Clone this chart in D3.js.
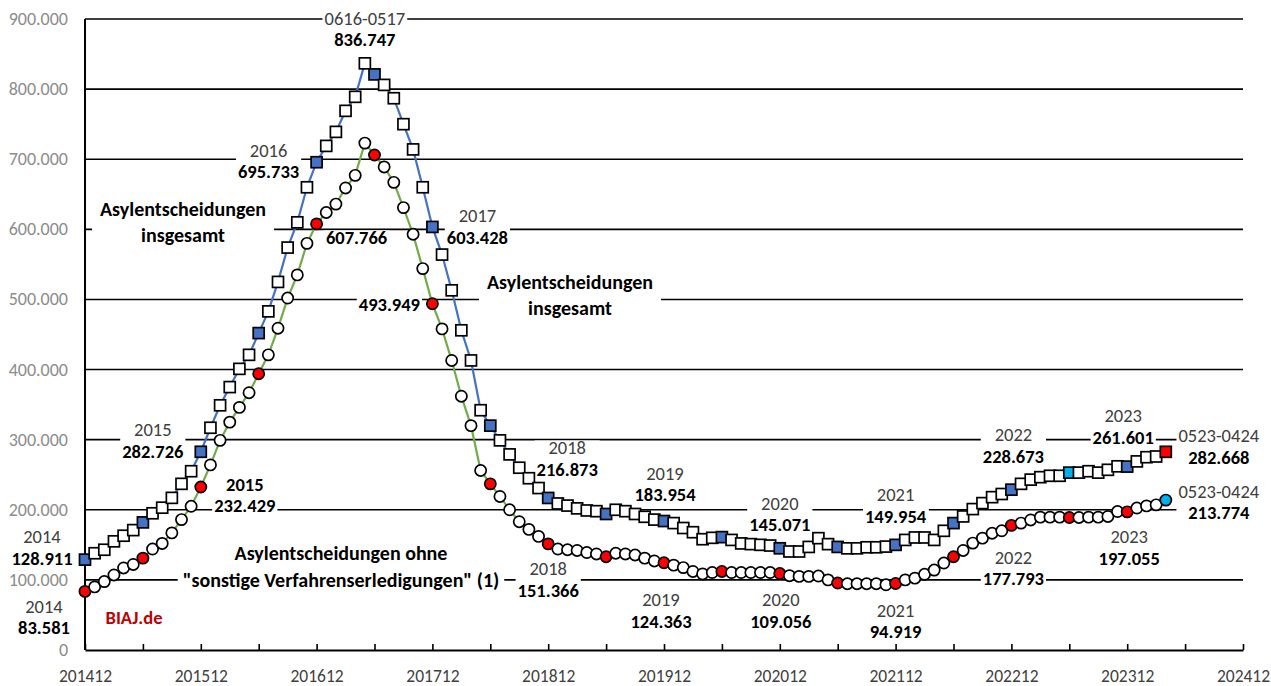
<!DOCTYPE html>
<html>
<head>
<meta charset="utf-8">
<script src="https://cdn.jsdelivr.net/npm/d3@7"></script>
<style>
  body { margin: 0; background: #fff; }
  svg text { font-family: Carlito, Lato, "Open Sans", sans-serif; }
</style>
</head>
<body>
<div id="chart"></div>
<script>
// monthly rolling 12-month totals, 201412 .. 202404
const startMonth = new Date(2014, 11, 1);
const months = d3.timeMonth.range(startMonth, new Date(2024, 4, 1)).map(d3.timeFormat("%Y%m"));

const xTickLabels = ["201412", "201512", "201612", "201712", "201812", "201912",
  "202012", "202112", "202212", "202312", "202412"];
const yTicks = [0, 100000, 200000, 300000, 400000, 500000, 600000, 700000, 800000, 900000];

// Asylentscheidungen insgesamt
const totalDecisions = [
  128911, 138000, 143000, 155000, 163000, 171000, 182000, 195000, 203000, 217000, 237000, 255000,
  282726, 317000, 349000, 375000, 401000, 421000, 452000, 483000, 525000, 574000, 610000, 660000,
  695733, 719000, 739000, 769000, 789000, 836747, 821000, 806000, 787000, 750000, 714000, 660000,
  603428, 564000, 513000, 456000, 413000, 342000, 320000, 299000, 279000, 260000, 245000, 231000,
  216873, 209000, 206000, 202000, 199000, 198000, 194000, 200000, 198000, 194000, 190000, 186000,
  183954, 181000, 174000, 168000, 158000, 160000, 161000, 157000, 152000, 151000, 150000, 149000,
  145071, 140500, 140500, 147000, 159500, 151000, 147000, 145000, 145000, 146500, 146500, 147500,
  149954, 157000, 160500, 160500, 157000, 170000, 181000, 190500, 201000, 209500, 218000, 222500,
  228673, 237000, 243000, 246500, 248500, 248500, 253000, 253000, 255000, 253000, 257000, 262000,
  261601, 269000, 275000, 276000, 282668
];

// Asylentscheidungen ohne "sonstige Verfahrenserledigungen"
const withoutOther = [
  83581, 90000, 97600, 107000, 117000, 122000, 131000, 144000, 152000, 167000, 186000, 205000,
  232429, 264000, 299000, 325000, 346000, 367000, 394000, 421000, 459000, 502000, 535000, 580000,
  607766, 624000, 636000, 659000, 677000, 723000, 706000, 689000, 667000, 631000, 593000, 544000,
  493949, 458000, 413000, 362000, 320000, 256000, 237000, 219000, 200000, 183000, 172000, 162000,
  151366, 144000, 143000, 142000, 139000, 137000, 133000, 138000, 137000, 135500, 131000, 127000,
  124363, 121000, 117500, 112000, 108500, 110500, 112000, 110500, 110500, 110500, 110500, 110500,
  109056, 106000, 105000, 105000, 105500, 100000, 95500, 94500, 94500, 94500, 94500, 93000,
  94919, 100000, 102500, 108000, 114000, 124000, 133000, 142000, 152500, 159500, 166500, 170000,
  177793, 181000, 185500, 189500, 189500, 189500, 189000, 189000, 189500, 189500, 190500, 197500,
  197055, 202500, 205500, 207000, 213774
];

// labelled points: month index, period text
const squareLabels = [
  [0, "2014"], [12, "2015"], [24, "2016"], [29, "0616-0517"], [36, "2017"], [48, "2018"],
  [60, "2019"], [72, "2020"], [84, "2021"], [96, "2022"], [108, "2023"], [112, "0523-0424"]
];
const circleLabels = [
  [0, "2014"], [12, "2015"], [24, ""], [36, ""], [48, "2018"], [60, "2019"],
  [72, "2020"], [84, "2021"], [96, "2022"], [108, "2023"], [112, "0523-0424"]
];

// label offsets from their point (px)
const labelOffsets = {
  "sq0": [-43, -23], "sq12": [-48, -22], "sq24": [-48, -12], "sq29": [0, -45],
  "sq36": [45, -11], "sq48": [19, -50], "sq60": [1, -48], "sq72": [0, -45],
  "sq84": [0, -50], "sq96": [2, -55], "sq108": [-4, -51], "sq112": [53, -16],
  "ci0": [-41, 15], "ci12": [44, -3], "ci24": [40, 14], "ci36": [-43, 1],
  "ci48": [0, 25], "ci60": [-3, 37], "ci72": [1, 26], "ci84": [0, 27],
  "ci96": [2, 32], "ci108": [2, 25], "ci112": [53, -9]
};

const W = 1271, H = 686;
const svg = d3.select("#chart").append("svg").attr("width", W).attr("height", H);

const x = d3.scaleLinear().domain([0, 120]).range([85, 1243]);
const y = d3.scaleLinear().domain([0, 900000]).range([650, 19]);

const fmt = d3.formatLocale({ decimal: ",", thousands: ".", grouping: [3], currency: ["", ""] }).format(",d");

// gridlines
svg.append("g")
  .selectAll("line")
  .data(yTicks.slice(1))
  .join("line")
  .attr("x1", x(0)).attr("x2", x(120))
  .attr("y1", d => y(d)).attr("y2", d => y(d))
  .attr("stroke", "#000").attr("stroke-width", 1.6);

// y tick labels
svg.append("g")
  .selectAll("text")
  .data(yTicks)
  .join("text")
  .attr("x", 68).attr("y", d => y(d))
  .attr("dominant-baseline", "central")
  .attr("text-anchor", "end")
  .attr("font-size", 18)
  .attr("fill", "#8c8c8c")
  .text(d => fmt(d));

// x axis
const xAxis = svg.append("g")
  .attr("transform", `translate(0, ${y(0)})`)
  .call(d3.axisBottom(x)
    .tickValues(d3.range(0, 121, 6))
    .tickSizeInner(-6).tickSizeOuter(0)
    .tickPadding(20)
    .tickFormat(i => i % 12 === 0 ? xTickLabels[i / 12] : ""));
xAxis.select(".domain").attr("stroke", "#000").attr("stroke-width", 2);
xAxis.selectAll(".tick line").attr("stroke", "#000").attr("stroke-width", 1.6);
xAxis.selectAll(".tick text")
  .attr("font-size", 17.5)
  .attr("fill", "#404040")
  .attr("font-family", "Carlito, Lato, sans-serif");

// y axis line
svg.append("line")
  .attr("x1", x(0)).attr("x2", x(0))
  .attr("y1", y(0)).attr("y2", y(900000))
  .attr("stroke", "#000").attr("stroke-width", 2);

// text blocks with white box that cuts the gridlines
const labelLayer = svg.append("g");
function textBlock(cx, cy, lines, pad, size, gap) {
  const g = labelLayer.append("g");
  const bg = g.append("rect").attr("fill", "#fff");
  lines.forEach((l, k) => {
    g.append("text")
      .attr("x", cx).attr("y", cy + k * gap)
      .attr("text-anchor", "middle")
      .attr("dominant-baseline", "central")
      .attr("font-size", size)
      .attr("font-weight", l.bold ? "bold" : "normal")
      .attr("fill", l.color || (l.bold ? "#000" : "#404040"))
      .text(l.text);
  });
  const bb = g.node().getBBox();
  bg.attr("x", bb.x - pad).attr("y", bb.y + 4)
    .attr("width", bb.width + 2 * pad).attr("height", bb.height - 7);
}

squareLabels.forEach(([i, period]) => {
  const [dx, dy] = labelOffsets["sq" + i];
  const lines = [];
  if (period) lines.push({ text: period });
  lines.push({ text: fmt(totalDecisions[i]), bold: true });
  textBlock(x(i) + dx, y(totalDecisions[i]) + dy, lines, 2, 18.5, 21.5);
});
circleLabels.forEach(([i, period]) => {
  const [dx, dy] = labelOffsets["ci" + i];
  const lines = [];
  if (period) lines.push({ text: period, bold: i === 12 });
  lines.push({ text: fmt(withoutOther[i]), bold: true });
  textBlock(x(i) + dx, y(withoutOther[i]) + dy, lines, 2, 18.5, 21.5);
});

textBlock(183, 209, [{ text: "Asylentscheidungen", bold: true }, { text: "insgesamt", bold: true }], 8, 20, 26);
textBlock(570, 282, [{ text: "Asylentscheidungen", bold: true }, { text: "insgesamt", bold: true }], 8, 20, 26);
textBlock(341, 553, [{ text: "Asylentscheidungen ohne", bold: true },
  { text: "\"sonstige Verfahrenserledigungen\" (1)", bold: true }], 5, 20, 27);
textBlock(134, 617, [{ text: "BIAJ.de", bold: true, color: "#c00000" }], 0, 18.5, 0);

// series lines
const line = d3.line().x((d, i) => x(i)).y(d => y(d));
svg.append("path").datum(totalDecisions)
  .attr("d", line).attr("fill", "none")
  .attr("stroke", "#4472c4").attr("stroke-width", 2.2);
svg.append("path").datum(withoutOther)
  .attr("d", line).attr("fill", "none")
  .attr("stroke", "#70ad47").attr("stroke-width", 2.2);

// markers
function squareFill(i) {
  if (i === totalDecisions.length - 1) return "#ff0000";
  if (i === 102) return "#00b0f0";
  return i % 6 === 0 ? "#4472c4" : "#fff";
}
function circleFill(i) {
  if (i === withoutOther.length - 1) return "#00b0f0";
  return i % 6 === 0 ? "#ff0000" : "#fff";
}
const ms = 11;
svg.append("g")
  .selectAll("rect")
  .data(totalDecisions)
  .join("rect")
  .attr("x", (d, i) => x(i) - ms / 2)
  .attr("y", d => y(d) - ms / 2)
  .attr("width", ms).attr("height", ms)
  .attr("fill", (d, i) => squareFill(i))
  .attr("stroke", "#000").attr("stroke-width", 1.7);
svg.append("g")
  .selectAll("circle")
  .data(withoutOther)
  .join("circle")
  .attr("cx", (d, i) => x(i))
  .attr("cy", d => y(d))
  .attr("r", 5.6)
  .attr("fill", (d, i) => circleFill(i))
  .attr("stroke", "#000").attr("stroke-width", 1.7);
</script>
</body>
</html>
